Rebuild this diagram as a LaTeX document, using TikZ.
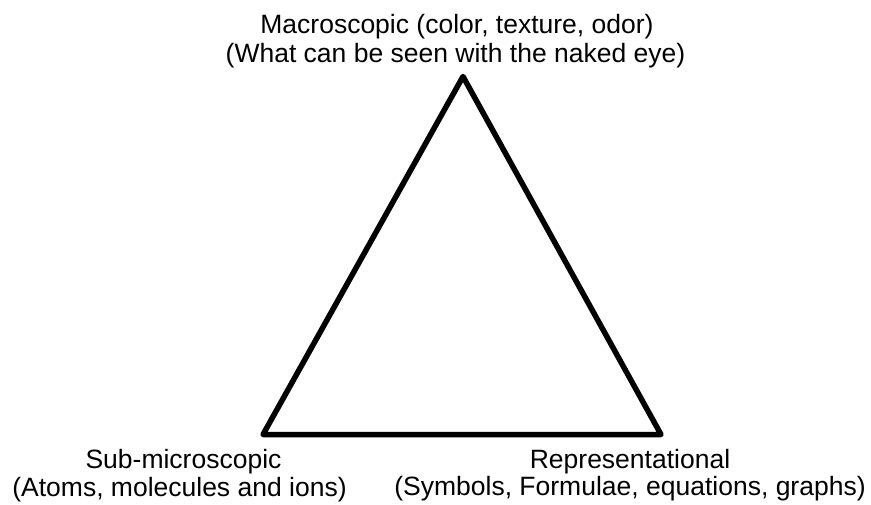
\documentclass[tikz,border=0pt]{standalone}
\usepackage{fontspec}
\setmainfont{Liberation Sans}
\begin{document}
\begin{tikzpicture}[x=1pt,y=-1pt,
  lbl/.style={anchor=base,inner sep=0pt,font=\fontsize{26.5}{30}\selectfont},
  tri/.style={line width=5.5pt,line join=round,draw=black}]
\useasboundingbox (0,0) rectangle (871,504);
\coordinate (top) at (463,76.5);
\coordinate (bl) at (263,434.5);
\coordinate (br) at (661,434.5);
\draw[tri] (top) -- (br) -- (bl) -- cycle;
\node[lbl] (macroA) at (457,33) {Macroscopic (color, texture, odor)};
\node[lbl] (macroB) at (455.5,62) {(What can be seen with the naked eye)};
\node[lbl] (subA) at (183.5,468) {Sub-microscopic};
\node[lbl] (subB) at (179.5,496) {(Atoms, molecules and ions)};
\node[lbl] (repA) at (630,468) {Representational};
\node[lbl] (repB) at (630,495.5) {(Symbols, Formulae, equations, graphs)};
\end{tikzpicture}
\end{document}
